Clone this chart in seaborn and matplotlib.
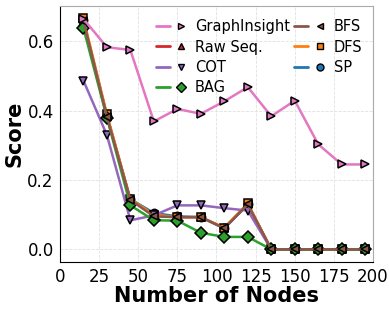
import numpy as np
import pandas as pd
import matplotlib
matplotlib.use("Agg")
import matplotlib.pyplot as plt
from matplotlib.lines import Line2D
from matplotlib.legend_handler import HandlerTuple
import seaborn as sns

nodes = [15, 30, 45, 60, 75, 90, 105, 120, 135, 150, 165, 180, 195]

graphinsight = [0.665, 0.583, 0.575, 0.369, 0.405, 0.391, 0.427, 0.468, 0.384, 0.429, 0.303, 0.245, 0.245]
raw_seq = [0.655, 0.386, 0.143, 0.100, 0.093, 0.093, 0.061, 0.130, 0.0, 0.0, 0.0, 0.0, 0.0]
cot = [0.487, 0.330, 0.084, 0.098, 0.127, 0.127, 0.119, 0.112, 0.0, 0.0, 0.0, 0.0, 0.0]
bag = [0.639, 0.380, 0.127, 0.084, 0.083, 0.048, 0.036, 0.036, 0.0, 0.0, 0.0, 0.0, 0.0]
bfs = [0.660, 0.383, 0.143, 0.095, 0.093, 0.093, 0.061, 0.130, 0.0, 0.0, 0.0, 0.0, 0.0]
dfs = [0.667, 0.390, 0.145, 0.100, 0.093, 0.093, 0.063, 0.133, 0.0, 0.0, 0.0, 0.0, 0.0]
sp = [0.662, 0.386, 0.145, 0.105, 0.095, 0.093, 0.061, 0.130, 0.0, 0.0, 0.0, 0.0, 0.0]

methods = ["GraphInsight", "Raw Seq.", "COT", "BAG", "BFS", "DFS", "SP"]
series = [graphinsight, raw_seq, cot, bag, bfs, dfs, sp]
colors = ["#e377c2", "#d62728", "#9467bd", "#2ca02c", "#8c564b", "#ff7f0e", "#1f77b4"]
markers = [">", "^", "v", "D", "<", "s", "o"]
draw_order = ["Raw Seq.", "SP", "DFS", "COT", "BAG", "BFS", "GraphInsight"]

df = pd.DataFrame({
    "nodes": np.tile(nodes, len(methods)),
    "score": np.concatenate(series),
    "method": np.repeat(methods, len(nodes)),
})

sns.set_style("whitegrid", {"grid.linestyle": "--", "grid.color": "#e0e0e0"})
plt.rcParams["font.family"] = ["DejaVu Sans"]
plt.rcParams.update({"text.color": "black", "axes.labelcolor": "black",
                     "xtick.color": "black", "ytick.color": "black"})

fig = plt.figure(figsize=(3.89, 3.11), dpi=100)
ax = fig.add_axes([0.154, 0.159, 0.805, 0.823])

style = dict(zip(methods, zip(colors, markers)))
for m in draw_order:
    c, mk = style[m]
    sns.lineplot(data=df[df["method"] == m], x="nodes", y="score", ax=ax,
                 color=c, marker=mk, markersize=6, markeredgecolor="black",
                 markeredgewidth=1.1, linewidth=1.8, legend=False)

ax.set_xlim(0, 200)
ax.set_ylim(-0.035, 0.703)
ax.set_xticks([0, 25, 50, 75, 100, 125, 150, 175, 200])
ax.set_yticks([0.0, 0.2, 0.4, 0.6])
ax.tick_params(labelsize=12, pad=1)
ax.set_xlabel("Number of Nodes", fontsize=15, fontweight="bold", labelpad=0)
ax.set_ylabel("Score", fontsize=15, fontweight="bold", labelpad=2)
ax.grid(True, linewidth=0.6)
for s in ["left", "bottom"]:
    ax.spines[s].set_color("black")
for s in ["top", "right"]:
    ax.spines[s].set_color("#aaaaaa")

handles = []
for c, mk in zip(colors, markers):
    ln = Line2D([], [], color=c, linewidth=2)
    pt = Line2D([], [], color=c, marker=mk, markersize=5, markeredgecolor="black",
                markeredgewidth=1, linestyle="none")
    handles.append((ln, pt))
ax.legend(handles, methods, ncol=2, loc="upper right", bbox_to_anchor=(0.994, 0.98),
          frameon=False, fontsize=10.5, labelcolor="black",
          handler_map={tuple: HandlerTuple(ndivide=None, pad=0.3)},
          handlelength=2.2, columnspacing=0.3, handletextpad=0.5,
          labelspacing=0.35, borderaxespad=0.2)

plt.savefig("out.png", dpi=100)
